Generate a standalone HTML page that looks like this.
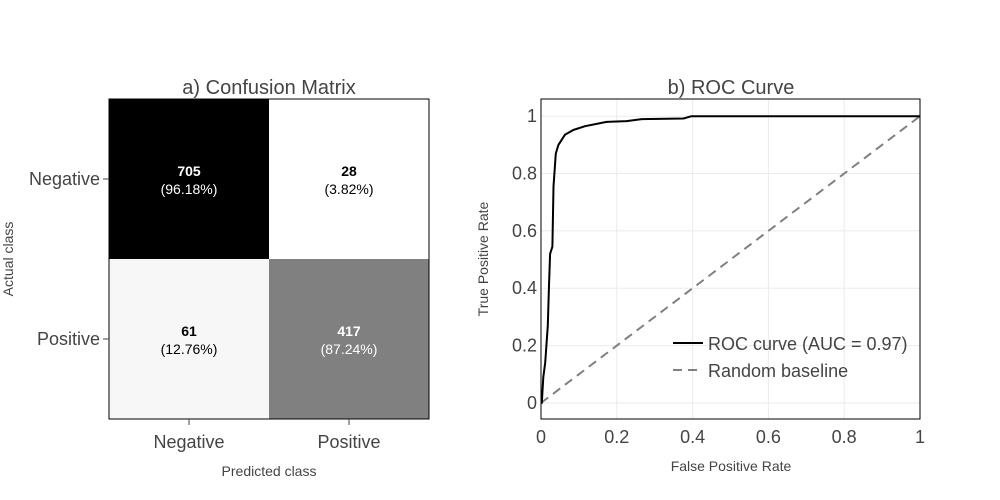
<!DOCTYPE html>
<html><head><meta charset="utf-8"><style>
html,body{margin:0;padding:0;background:#fff;}
svg{display:block;font-family:"Liberation Sans",Arial,sans-serif;}
</style></head><body>
<svg id="fig" width="1000" height="500" viewBox="0 0 1000 500">
<g id="cm"></g>
<g id="roc"></g>
</svg>
<script>
const NS="http://www.w3.org/2000/svg";
const cmClasses=["Negative","Positive"];
const cmCounts=[[705,28],[61,417]];
const cmPercents=["96.18%","3.82%","12.76%","87.24%"];
const cmFills=[["#000000","#ffffff"],["#f7f7f7","#808080"]];
const rocFpr=[0,0.002,0.006,0.011,0.018,0.021,0.024,0.030,0.033,0.039,0.046,0.063,0.085,0.116,0.173,0.226,0.266,0.376,0.397,1];
const rocTpr=[0,0,0.09,0.14,0.27,0.41,0.52,0.545,0.755,0.87,0.90,0.935,0.952,0.965,0.98,0.983,0.99,0.992,1.0,1.0];
const rocTicks=[0,0.2,0.4,0.6,0.8,1];
const rocTickLabels=["0","0.2","0.4","0.6","0.8","1"];

function mk(parent,tag,attrs,text){const e=document.createElementNS(NS,tag);for(const k in attrs)e.setAttribute(k,attrs[k]);if(text!==undefined)e.textContent=text;parent.appendChild(e);return e;}

const cm=document.getElementById('cm');
const cmX0=109,cmY0=99,cell=160;
let t=mk(cm,'text',{x:269,y:94,'text-anchor':'middle','font-size':20,fill:'#444'},'a) Confusion Matrix');


cmCounts.forEach((row,i)=>row.forEach((v,j)=>{
  const x=cmX0+j*cell,y=cmY0+i*cell;
  const r=mk(cm,'rect',{x:x,y:y,width:cell,height:cell,fill:cmFills[i][j]});
  
  
  const dark=cmFills[i][j]==="#000000"||cmFills[i][j]==="#808080";
  const col=dark?'#fff':'#000';
  const a=mk(cm,'text',{x:x+cell/2,y:y+77,'text-anchor':'middle','font-size':14,'font-weight':'bold',fill:col},String(v));
  
  
  const b=mk(cm,'text',{x:x+cell/2,y:y+95,'text-anchor':'middle','font-size':14,fill:col},'('+cmPercents[i*2+j]+')');
  
  
}));
let fr=mk(cm,'rect',{x:cmX0,y:cmY0,width:320,height:320,fill:'none',stroke:'#000','stroke-width':1});


cmClasses.forEach((c,i)=>{
  const cy=cmY0+cell*i+cell/2;
  mk(cm,'line',{x1:103,x2:109,y1:cy,y2:cy,stroke:'#444'});
  const l=mk(cm,'text',{x:100,y:cy+6,'text-anchor':'end','font-size':18,fill:'#444'},c);
  
  
  const cx=cmX0+cell*i+cell/2;
  mk(cm,'line',{x1:cx,x2:cx,y1:419,y2:425,stroke:'#444'});
  const m=mk(cm,'text',{x:cx,y:448,'text-anchor':'middle','font-size':18,fill:'#444'},c);
  
  
});
t=mk(cm,'text',{x:269,y:476,'text-anchor':'middle','font-size':14,fill:'#444'},'Predicted class');


t=mk(cm,'text',{x:13,y:259,'text-anchor':'middle','font-size':14,fill:'#444',transform:'rotate(-90 13 259)'},'Actual class');



const roc=document.getElementById('roc');
const L=541,R=920,T=99,B=419;
const yMin=-0.056,yMax=1.06;
const sx=v=>L+v*(R-L);
const sy=v=>B-(v-yMin)/(yMax-yMin)*(B-T);
t=mk(roc,'text',{x:731,y:94,'text-anchor':'middle','font-size':20,fill:'#444'},'b) ROC Curve');


rocTicks.forEach((v,i)=>{
  const g=mk(roc,'line',{x1:sx(v),x2:sx(v),y1:T,y2:B,stroke:'#ebebeb'});
  
  
  const h=mk(roc,'line',{x1:L,x2:R,y1:sy(v),y2:sy(v),stroke:'#ebebeb'});
  
  
  const a=mk(roc,'text',{x:sx(v),y:443,'text-anchor':'middle','font-size':18,fill:'#444'},rocTickLabels[i]);
  
  
  const b=mk(roc,'text',{x:537,y:sy(v)+6,'text-anchor':'end','font-size':18,fill:'#444'},rocTickLabels[i]);
  
  
});
let base=mk(roc,'line',{x1:sx(0),y1:sy(0),x2:sx(1),y2:sy(1),stroke:'#808080','stroke-width':2,'stroke-dasharray':'9,6'});


let pts=rocFpr.map((f,i)=>sx(f).toFixed(1)+','+sy(rocTpr[i]).toFixed(1)).join(' ');
let curve=mk(roc,'polyline',{points:pts,fill:'none',stroke:'#000','stroke-width':2,'stroke-linejoin':'round'});


fr=mk(roc,'rect',{x:L,y:T,width:R-L,height:B-T,fill:'none',stroke:'#000','stroke-width':1});


let lg=mk(roc,'g',{});


mk(lg,'line',{x1:673,x2:703,y1:343,y2:343,stroke:'#000','stroke-width':2});
t=mk(lg,'text',{x:708,y:350,'font-size':18,fill:'#444'},'ROC curve (AUC = 0.97)');


mk(lg,'line',{x1:673,x2:703,y1:370,y2:370,stroke:'#808080','stroke-width':2,'stroke-dasharray':'9,6'});
t=mk(lg,'text',{x:708,y:377,'font-size':18,fill:'#444'},'Random baseline');


t=mk(roc,'text',{x:731,y:471,'text-anchor':'middle','font-size':14,fill:'#444'},'False Positive Rate');


t=mk(roc,'text',{x:488,y:259,'text-anchor':'middle','font-size':14,fill:'#444',transform:'rotate(-90 488 259)'},'True Positive Rate');


</script>
</body></html>
